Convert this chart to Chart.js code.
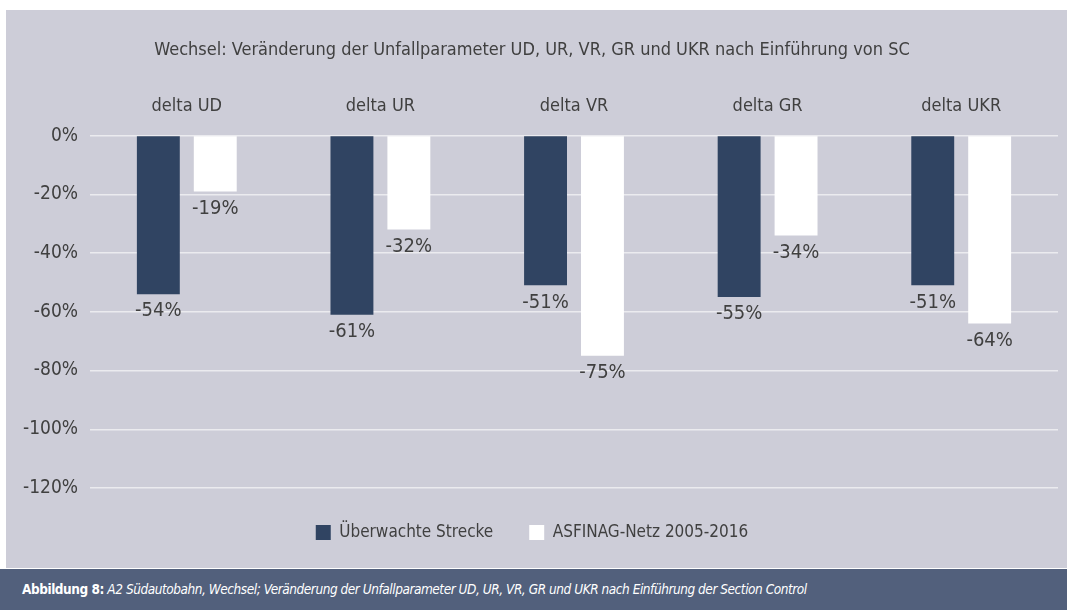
<!DOCTYPE html>
<html>
<head>
<meta charset="utf-8">
<script src="https://cdn.jsdelivr.net/npm/chart.js@4.4.0/dist/chart.umd.min.js"></script>
<style>
    html, body { margin: 0; padding: 0; background: #fff; width: 1067px; height: 610px; overflow: hidden; }
    body { font-family: 'Liberation Sans Narrow', 'DejaVu Sans Condensed', sans-serif; }
    #panel { position: absolute; left: 6px; top: 10px; width: 1061px; height: 558px; background: #cdcdd8; }
    #caption { position: absolute; left: 0; top: 569px; width: 1067px; height: 41px; background: #52607c; color: #fff;
               font-size: 13.5px; letter-spacing: -0.45px; line-height: 41px; padding-left: 22px; box-sizing: border-box; white-space: nowrap; }
    #caption b { font-weight: bold; }
    #caption i { font-style: italic; }
</style>
</head>
<body>
<div id="panel"><canvas id="deltaChart" width="1061" height="558"></canvas></div>
<div id="caption"><b>Abbildung 8:</b> <i>A2 Südautobahn, Wechsel; Veränderung der Unfallparameter UD, UR, VR, GR und UKR nach Einführung der Section Control</i></div>

<script>
// Data
const categories = ['delta UD', 'delta UR', 'delta VR', 'delta GR', 'delta UKR'];
const seriesNames = ['Überwachte Strecke', 'ASFINAG-Netz 2005-2016'];
const monitoredValues = [-54, -61, -51, -55, -51];
const networkValues = [-19, -32, -75, -34, -64];
const yMin = -120, yMax = 0, yStep = 20;

const FONT = "'Liberation Sans Narrow', 'DejaVu Sans Condensed', sans-serif";
const TEXT = '#404040';

// value labels below each bar end
const barValueLabels = {
    id: 'barValueLabels',
    afterDatasetsDraw(chart) {
        const ctx = chart.ctx;
        ctx.save();
        ctx.font = '20px ' + FONT;
        ctx.fillStyle = TEXT;
        ctx.textAlign = 'center';
        ctx.textBaseline = 'middle';
        chart.data.datasets.forEach((ds, i) => {
            chart.getDatasetMeta(i).data.forEach((bar, j) => {
                ctx.fillText(ds.data[j] + '%', bar.x, bar.y + 17);
            });
        });
        ctx.restore();
    }
};

const ctx = document.getElementById('deltaChart').getContext('2d');
new Chart(ctx, {
    type: 'bar',
    data: {
        labels: categories,
        datasets: [
            { label: seriesNames[0], data: monitoredValues, backgroundColor: '#304462', borderWidth: 0 },
            { label: seriesNames[1], data: networkValues, backgroundColor: '#ffffff', borderWidth: 0 }
        ]
    },
    options: {
        responsive: false,
        animation: false,
        categoryPercentage: 0.588,
        barPercentage: 0.754,
        layout: { padding: { left: 0, right: 9, top: 0, bottom: 17 } },
        scales: {
            x: {
                position: 'top',
                grid: { display: false, drawTicks: false },
                border: { display: false },
                ticks: { color: TEXT, font: { family: FONT, size: 18 }, padding: 18 },
                afterFit(s) { s.height = 64; }
            },
            y: {
                min: yMin, max: yMax,
                grid: { color: '#ebebef', lineWidth: 1.5, drawTicks: false },
                border: { display: false },
                ticks: { stepSize: yStep, color: TEXT, font: { family: FONT, size: 19 }, padding: 12,
                         callback: v => v + '%' },
                afterFit(s) { s.width = 84; }
            }
        },
        plugins: {
            title: {
                display: true,
                text: 'Wechsel: Veränderung der Unfallparameter UD, UR, VR, GR und UKR nach Einführung von SC',
                color: TEXT,
                font: { family: FONT, size: 18, weight: 'normal' },
                padding: { top: 30, bottom: 10 }
            },
            legend: {
                position: 'bottom',
                labels: { color: TEXT, font: { family: FONT, size: 17 }, boxWidth: 15, boxHeight: 15, padding: 36 }
            },
            tooltip: { enabled: false }
        }
    },
    plugins: [barValueLabels]
});
</script>
</body>
</html>
